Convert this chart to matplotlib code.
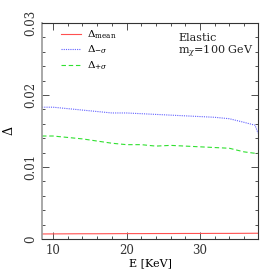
import numpy as np
import matplotlib
matplotlib.use('Agg')
import matplotlib.pyplot as plt
from matplotlib.ticker import MultipleLocator

# data
energy = [8.5, 10, 12, 14, 16, 18, 20, 22, 24, 26, 28, 30, 32, 34, 36, 37.5, 37.9]
delta_mean = [0.00070, 0.00071, 0.00072, 0.00073, 0.00073, 0.00074, 0.00075, 0.00075,
              0.00076, 0.00076, 0.00077, 0.00077, 0.00078, 0.00078, 0.00079, 0.00080, 0.00080]
delta_minus = [0.0183, 0.0183, 0.0181, 0.0179, 0.0177, 0.0175, 0.0175, 0.0174,
               0.0173, 0.0172, 0.0171, 0.0170, 0.0169, 0.0167, 0.0162, 0.0158, 0.0147]
delta_plus = [0.0143, 0.0143, 0.0141, 0.0139, 0.0136, 0.0133, 0.0131, 0.0131,
              0.0129, 0.0130, 0.0129, 0.0128, 0.0127, 0.0126, 0.0121, 0.0119, 0.0119]

plt.rcParams['font.family'] = ['DejaVu Serif']
plt.rcParams['mathtext.fontset'] = 'dejavuserif'

fig = plt.figure(figsize=(2.73, 2.73), dpi=100)
ax = fig.add_axes([0.154, 0.1245, 0.791, 0.7915])

ax.plot(energy, delta_mean, color='#ff5050', lw=0.8, label=r'$\Delta_{\rm mean}$')
ax.plot(energy, delta_minus, color='#6060ff', lw=0.8, ls=(0, (1, 1)), label=r'$\Delta_{-\sigma}$')
ax.plot(energy, delta_plus, color='#30e030', lw=0.8, ls=(0, (4, 2.5)), label=r'$\Delta_{+\sigma}$')

ax.set_xlim(8.5, 37.9)
ax.set_ylim(0, 0.03)
ax.xaxis.set_major_locator(MultipleLocator(10))
ax.xaxis.set_minor_locator(MultipleLocator(2))
ax.yaxis.set_major_locator(MultipleLocator(0.01))
ax.yaxis.set_minor_locator(MultipleLocator(0.002))
ax.set_yticks([0, 0.01, 0.02, 0.03])
ax.set_yticklabels(['0', '0.01', '0.02', '0.03'], rotation=90, va='center')
ax.tick_params(which='both', direction='in', top=True, right=True, labelsize=8.5, colors='#333333')
ax.tick_params(which='major', length=5, width=0.6)
ax.tick_params(which='minor', length=2.5, width=0.6)
for s in ax.spines.values():
    s.set_color('#333333')
    s.set_linewidth(0.8)
ax.spines['left'].set_color('#999999')
ax.spines['left'].set_linewidth(1.2)

ax.set_xlabel('E [KeV]', fontsize=8, labelpad=1)
ax.set_ylabel(r'$\Delta$', fontsize=9, labelpad=6)

ax.legend(loc='upper left', frameon=False, fontsize=7.5, handlelength=1.9,
          handletextpad=0.6, borderpad=0, borderaxespad=0, labelspacing=0.3,
          bbox_to_anchor=(0.088, 0.975))
ax.text(0.63, 0.955, 'Elastic\n' + r'm$_\chi$=100 GeV', transform=ax.transAxes,
        fontsize=8, va='top', ha='left', color='#222222', linespacing=1.1)

fig.savefig('out.png', dpi=100)
